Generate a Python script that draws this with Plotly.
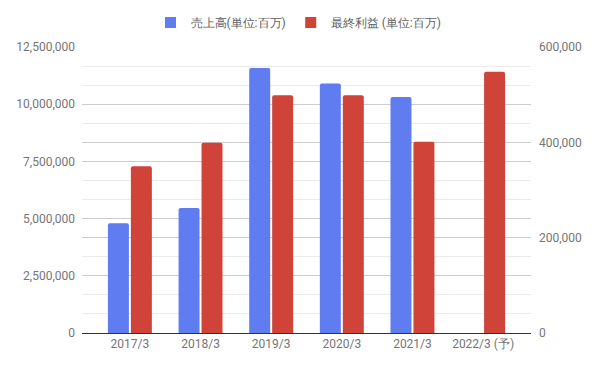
import plotly.graph_objects as go

categories = ["2017/3", "2018/3", "2019/3", "2020/3", "2021/3", "2022/3 (予)"]
sales = [4800000, 5460000, 11580000, 10910000, 10310000, None]
profit = [350000, 399000, 499000, 499000, 401000, 548000]

sales_name = "売上高(単位:百万)"
profit_name = "最終利益 (単位:百万)"

blue = "#5f7cf0"
red = "#cf4339"
font = "Roboto, Arial, sans-serif"

fig = go.Figure()
fig.add_trace(go.Bar(
    x=categories, y=sales, name=sales_name, marker=dict(color=blue, line=dict(width=0), cornerradius=2),
    width=0.297, offset=-0.311, yaxis="y", showlegend=False,
))
fig.add_trace(go.Bar(
    x=categories, y=profit, name=profit_name, marker=dict(color=red, line=dict(width=0), cornerradius=2),
    width=0.297, offset=0.014, yaxis="y2", showlegend=False,
))
# legend entries with sharp square swatches
for name, color in [(sales_name, blue), (profit_name, red)]:
    fig.add_trace(go.Scatter(
        x=[None], y=[None], mode="markers", name=name,
        marker=dict(symbol="square", size=11, color=color, line=dict(width=0)),
        showlegend=True,
    ))

# the page body adds an 8px margin, so the figure is sized to fill 597x369 exactly
W, H = 581, 353
fig.update_layout(
    width=W, height=H,
    margin=dict(l=74, r=58, t=39, b=28, autoexpand=False),
    paper_bgcolor="white", plot_bgcolor="white",
    font=dict(family=font, size=12, color="#757575"),
    barmode="overlay",
    showlegend=True,
    legend=dict(
        orientation="h", xref="container", yref="container",
        x=0.5, xanchor="center", y=1 - 14.5 / H, yanchor="middle",
        font=dict(size=12, color="#5f5f5f", family=font),
        itemclick=False, itemdoubleclick=False,
    ),
    xaxis=dict(
        type="category", range=[-0.678, 5.678], showgrid=False,
        showline=True, linecolor="#333333", linewidth=1,
        ticks="", tickfont=dict(size=12, color="#757575"),
        zeroline=False, automargin=False,
    ),
    yaxis=dict(
        range=[0, 12500000], dtick=2500000, tick0=0,
        tickformat=",d", showgrid=True, gridcolor="#cccccc", gridwidth=1,
        minor=dict(dtick=12500000 / 15, tick0=0, showgrid=True, gridcolor="#ebebeb", gridwidth=1),
        zeroline=False, ticks="", ticklabelstandoff=6, automargin=False,
        tickfont=dict(size=12, color="#757575"),
    ),
    yaxis2=dict(
        range=[0, 600000], dtick=200000, tick0=0, overlaying="y", side="right",
        tickformat=",d", showgrid=True, gridcolor="#cccccc", gridwidth=1,
        zeroline=False, ticks="", ticklabelstandoff=7, automargin=False,
        tickfont=dict(size=12, color="#757575"),
    ),
    hovermode=False,
)

fig.write_html("out.html")
